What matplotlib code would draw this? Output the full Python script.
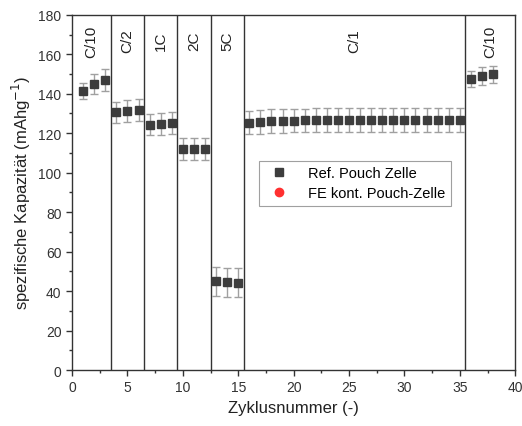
import matplotlib.pyplot as plt
from matplotlib.lines import Line2D
from matplotlib.ticker import MultipleLocator

plt.rcParams['font.family'] = ['Liberation Sans', 'DejaVu Sans']

# cycle number and specific capacity (mAh/g) of the reference pouch cell
cycles = list(range(1, 39))
capacity = [141.3, 145.0, 146.9,
            130.5, 131.1, 131.8,
            124.4, 124.6, 125.0,
            112.1, 112.1, 112.1,
            45.0, 44.4, 44.3,
            125.4, 125.8, 126.1, 126.3, 126.4, 126.5, 126.6, 126.6, 126.6, 126.6,
            126.6, 126.6, 126.6, 126.6, 126.6, 126.6, 126.6, 126.6, 126.6, 126.7,
            147.6, 149.0, 149.8]
capacity_err = [4.2, 5.0, 5.5,
                5.5, 5.5, 5.5,
                5.5, 5.5, 5.5,
                5.5, 5.5, 5.5,
                7.4, 7.4, 7.4,
                6.0, 6.0, 6.0, 6.0, 6.0, 6.0, 6.0, 6.0, 6.0, 6.0,
                6.0, 6.0, 6.0, 6.0, 6.0, 6.0, 6.0, 6.0, 6.0, 6.0,
                4.0, 4.5, 4.5]

# C-rate blocks: boundaries and labels
rate_edges = [0, 3.5, 6.5, 9.5, 12.5, 15.5, 35.5, 40]
rate_labels = ['C/10', 'C/2', '1C', '2C', '5C', 'C/1', 'C/10']

fig = plt.figure(figsize=(5.22, 4.27), dpi=100)
ax = fig.add_axes([0.138, 0.131, 0.849, 0.832])

ax.errorbar(cycles, capacity, yerr=capacity_err, fmt='s', color='#3d3d3d',
            markersize=6, ecolor='#a0a0a0', elinewidth=1, capsize=3,
            capthick=1)

for x in rate_edges[1:-1]:
    ax.axvline(x, color='#333333', linewidth=1)
for i, lab in enumerate(rate_labels):
    xc = (rate_edges[i] + rate_edges[i + 1]) / 2
    ax.text(xc, 167, lab, rotation=90, ha='center', va='center',
            fontsize=11, color='#222222')

ax.set_xlim(0, 40)
ax.set_ylim(0, 180)
ax.xaxis.set_major_locator(MultipleLocator(5))
ax.xaxis.set_minor_locator(MultipleLocator(2.5))
ax.yaxis.set_major_locator(MultipleLocator(20))
ax.yaxis.set_minor_locator(MultipleLocator(10))
ax.tick_params(which='major', direction='out', length=4, width=1,
               labelsize=10, colors='#333333')
ax.tick_params(which='minor', direction='out', length=2.5, width=1,
               colors='#333333')
for s in ax.spines.values():
    s.set_color('#333333')
    s.set_linewidth(1)

ax.set_xlabel('Zyklusnummer (-)', fontsize=12, color='#222222')
ax.set_ylabel('spezifische Kapazität (mAhg$^{-1}$)', fontsize=12, color='#222222')

# legend: the second cell has no plotted values, only its entry
handles = [
    Line2D([], [], marker='s', linestyle='none', color='#3d3d3d', markersize=6),
    Line2D([], [], marker='o', linestyle='none', color='#ff3030', markersize=6),
]
leg = ax.legend(handles, ['Ref. Pouch Zelle', 'FE kont. Pouch-Zelle'],
                loc='upper left', bbox_to_anchor=(0.405, 0.61), fontsize=10.5,
                frameon=True, fancybox=False, edgecolor='#888888',
                handletextpad=1.0, borderpad=0.4, labelspacing=0.4)
leg.get_frame().set_linewidth(0.8)

fig.savefig('out.png', dpi=100)
